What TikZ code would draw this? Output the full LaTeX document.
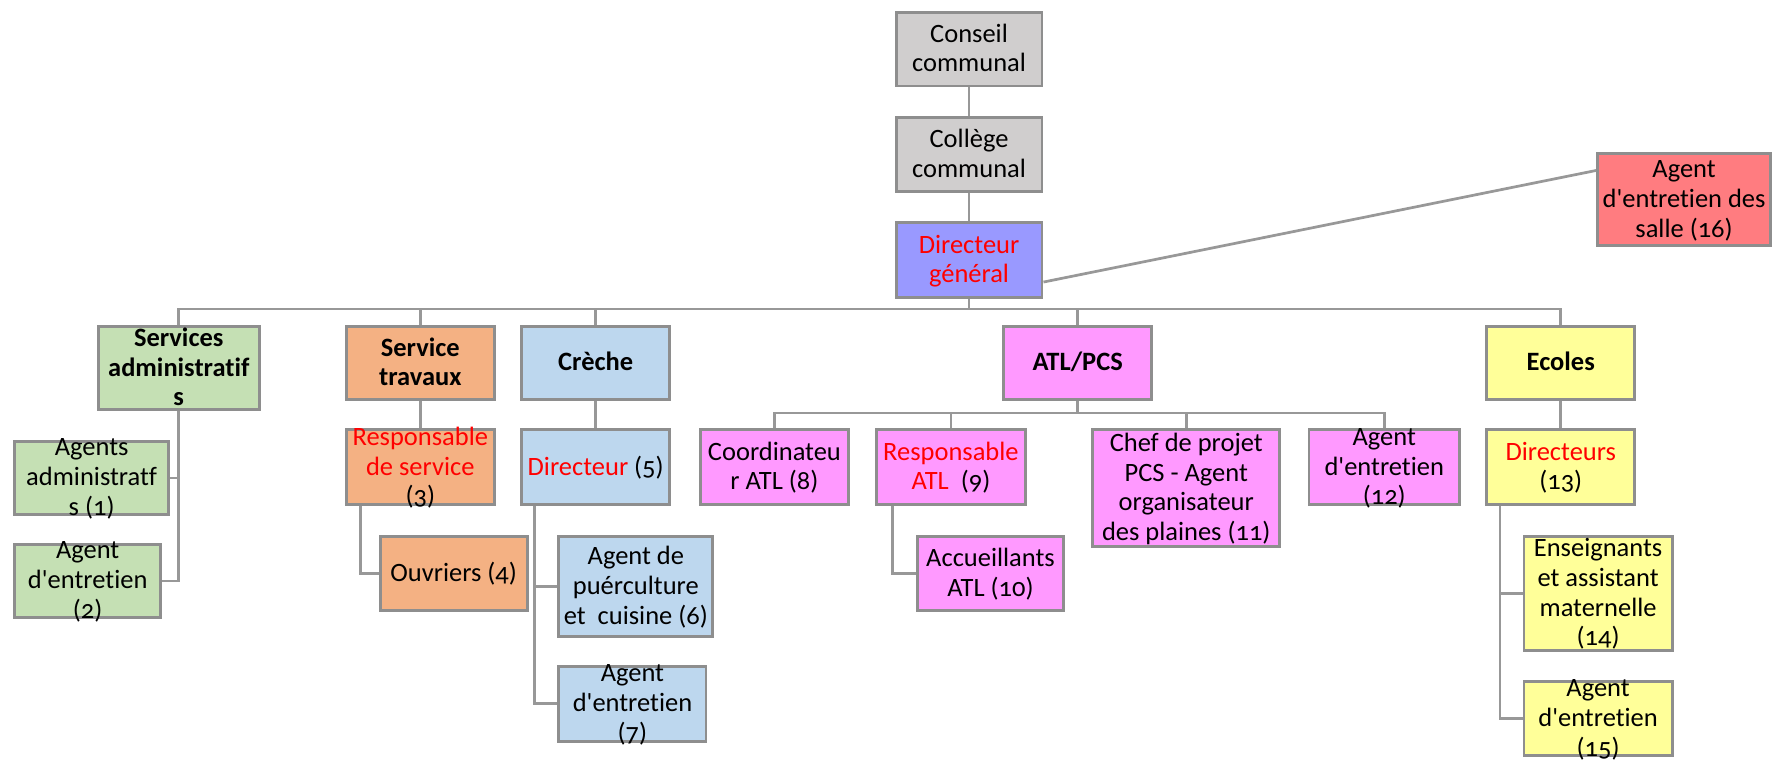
\documentclass[tikz,border=0pt]{standalone}
\usepackage{fontspec}
\setmainfont{Carlito}[Numbers=OldStyle,Ligatures={TeXOff,NoCommon}]
\usetikzlibrary{calc}

\definecolor{cgray}{HTML}{D0CECE}
\definecolor{cdg}{HTML}{9999FF}
\definecolor{csalle}{HTML}{FF7C80}
\definecolor{cadm}{HTML}{C5E0B4}
\definecolor{ctrav}{HTML}{F4B183}
\definecolor{ccreche}{HTML}{BDD7EE}
\definecolor{catl}{HTML}{FF99FF}
\definecolor{cecole}{HTML}{FFFF99}
\definecolor{edge}{HTML}{8E8E8E}
\definecolor{wire}{HTML}{989898}

\newcommand{\tx}[1]{\smash{\raisebox{-3.8pt}{\begin{tabular}{@{}c@{}}#1\end{tabular}}}}
\newcommand{\rouge}[1]{\textcolor{red}{#1}}

\begin{document}
\begin{tikzpicture}[x=0.5pt,y=-0.5pt,
  every node/.style={font=\fontsize{11.7}{13.2}\selectfont},
  box/.style={rectangle, draw=edge, line width=1.3pt, inner sep=0pt},
  wh/.style 2 args={minimum width=#1*0.5pt, minimum height=#2*0.5pt},
  head/.style={font=\fontsize{11.7}{13.2}\selectfont\bfseries},
  link/.style={draw=wire, line width=1.2pt}]

\fill[white] (0,0) rectangle (1568,673);
\useasboundingbox (0,0) rectangle (1568,673);

% top of the chart
\node[box,fill=cgray,wh={129}{65}] (conseil) at (856.5,43.5) {\tx{Conseil\\communal}};
\node[box,fill=cgray,wh={129}{65}] (college) at (856.5,136.5) {\tx{Collège\\communal}};
\node[box,fill=cdg,wh={129}{66}] (dg) at (856.5,230) {\tx{\rouge{Directeur}\\\rouge{général}}};
\node[box,fill=csalle,wh={153}{81}] (salle) at (1488.5,176.5) {\tx{Agent\\d'entretien des\\salle (16)}};

% services
\node[box,head,fill=cadm,wh={142}{73}] (sadm) at (158,325.5) {\tx{Services\\administratif\\s}};
\node[box,head,fill=ctrav,wh={131}{64}] (strav) at (371.5,321) {\tx{Service\\travaux}};
\node[box,head,fill=ccreche,wh={131}{64}] (creche) at (526.5,321) {\tx{Crèche}};
\node[box,head,fill=catl,wh={131}{64}] (atl) at (952.5,321) {\tx{ATL/PCS}};
\node[box,head,fill=cecole,wh={131}{64}] (ecoles) at (1379.5,321) {\tx{Ecoles}};

% agents
\node[box,fill=cadm,wh={136}{65}] (adm1) at (81,422.5) {\tx{Agents\\administratf\\s (1)}};
\node[box,fill=cadm,wh={129}{65}] (ent2) at (77.5,513.5) {\tx{Agent\\d'entretien\\(2)}};
\node[box,fill=ctrav,wh={131}{66}] (resp3) at (371.5,413) {\tx{\rouge{Responsable}\\\rouge{de service}\\(3)}};
\node[box,fill=ctrav,wh={130}{66}] (ouv4) at (401,507) {\tx{Ouvriers (4)}};
\node[box,fill=ccreche,wh={131}{66}] (dir5) at (526.5,413) {\tx{\rouge{Directeur} (5)}};
\node[box,fill=ccreche,wh={136}{89}] (puer6) at (562,518.5) {\tx{Agent de\\puérculture\\et~~cuisine (6)}};
\node[box,fill=ccreche,wh={130}{66}] (ent7) at (559,622) {\tx{Agent\\d'entretien\\(7)}};
\node[box,fill=catl,wh={131}{66}] (coord8) at (684.5,413) {\tx{Coordinateu\\r ATL (8)}};
\node[box,fill=catl,wh={131}{66}] (resp9) at (840.5,413) {\tx{\rouge{Responsable}\\\rouge{ATL}~~(9)}};
\node[box,fill=catl,wh={129}{66}] (acc10) at (875.5,507) {\tx{Accueillants\\ATL (10)}};
\node[box,fill=catl,wh={165}{103}] (pcs11) at (1048.5,431.5) {\tx{Chef de projet\\PCS - Agent\\organisateur\\des plaines (11)}};
\node[box,fill=catl,wh={133}{66}] (ent12) at (1223.5,413) {\tx{Agent\\d'entretien\\(12)}};
\node[box,fill=cecole,wh={131}{66}] (dir13) at (1379.5,413) {\tx{\rouge{Directeurs}\\(13)}};
\node[box,fill=cecole,wh={131}{101}] (ens14) at (1412.5,524.5) {\tx{Enseignants\\et assistant\\maternelle\\(14)}};
\node[box,fill=cecole,wh={131}{66}] (ent15) at (1412.5,635) {\tx{Agent\\d'entretien\\(15)}};

\coordinate (bus) at (856.5,273);
\coordinate (atlbus) at (952.5,365);

% links
\draw[link] (conseil) -- (college);
\draw[link] (college) -- (dg);
\draw[link] ($(dg.south east)+(0,-15)$) -- ($(salle.north west)+(0,16)$);
\draw[link] (dg) -- (bus);
\draw[link] (bus) -| (sadm);
\draw[link] (bus) -| (strav);
\draw[link] (bus) -| (creche);
\draw[link] (bus) -| (atl);
\draw[link] (bus) -| (ecoles);

\draw[link] (sadm.south) |- (adm1.east);
\draw[link] (sadm.south) |- (ent2.east);
\draw[link] (strav) -- (resp3);
\draw[link] ($(resp3.south west)+(14,0)$) |- (ouv4.west);
\draw[link] (creche) -- (dir5);
\draw[link] ($(dir5.south west)+(13,0)$) |- (puer6.west);
\draw[link] ($(dir5.south west)+(13,0)$) |- (ent7.west);

\draw[link] (atl) -- (atlbus);
\draw[link] (atlbus) -| (coord8);
\draw[link] (atlbus) -| (resp9);
\draw[link] (atlbus) -| (pcs11);
\draw[link] (atlbus) -| (ent12);
\draw[link] ($(resp9.south west)+(15,0)$) |- (acc10.west);

\draw[link] (ecoles) -- (dir13);
\draw[link] ($(dir13.south west)+(13,0)$) |- (ens14.west);
\draw[link] ($(dir13.south west)+(13,0)$) |- (ent15.west);
\end{tikzpicture}
\end{document}
